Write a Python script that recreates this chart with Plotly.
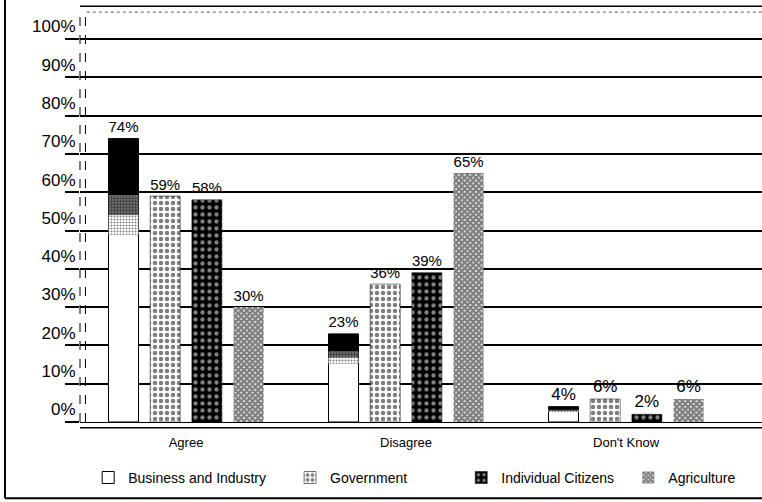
import plotly.graph_objects as go

# Survey responses by group (percent)
categories = ["Agree", "Disagree", "Don't Know"]
business = [74, 23, 4]
government = [59, 36, 6]
citizens = [58, 39, 2]
agriculture = [30, 65, 6]

y_tick_values = [0, 10, 20, 30, 40, 50, 60, 70, 80, 90, 100]
y_tick_labels = [f"{v}%" for v in y_tick_values]

FONT = "Liberation Sans, Arial, sans-serif"
label_font = dict(family=FONT, size=17, color="black")

fig = go.Figure()

# Business and Industry: white body with a dark, grainy cap
fig.add_trace(go.Bar(
    x=categories, y=business, name="Business and Industry",
    offsetgroup="b", legend="legend",
    marker=dict(color="white", line=dict(color="black", width=1)),
    text=[f"{v}%" for v in business], textposition="outside",
    textfont=label_font, cliponaxis=False,
))
fig.add_trace(go.Bar(
    x=categories, y=[v * 0.07 for v in business],
    base=[v * 0.66 for v in business],
    offsetgroup="b", showlegend=False, hoverinfo="skip",
    marker=dict(color="white", line=dict(width=0),
                pattern=dict(shape=".", size=3, solidity=0.35,
                             fgcolor="black", bgcolor="white",
                             fillmode="overlay")),
))
fig.add_trace(go.Bar(
    x=categories, y=[v * 0.07 for v in business],
    base=[v * 0.73 for v in business],
    offsetgroup="b", showlegend=False, hoverinfo="skip",
    marker=dict(color="white", line=dict(width=0),
                pattern=dict(shape=".", size=3, solidity=0.7,
                             fgcolor="black", bgcolor="#888",
                             fillmode="overlay")),
))
fig.add_trace(go.Bar(
    x=categories, y=[v * 0.2 for v in business],
    base=[v * 0.8 for v in business],
    offsetgroup="b", showlegend=False, hoverinfo="skip",
    marker=dict(color="black", line=dict(width=0)),
))

# Government: black dots on white
fig.add_trace(go.Bar(
    x=categories, y=government, name="Government",
    offsetgroup="g", legend="legend2",
    marker=dict(color="white", line=dict(color="black", width=0.5),
                pattern=dict(shape=".", size=6, solidity=0.45,
                             fgcolor="black", bgcolor="white",
                             fillmode="overlay")),
    text=[f"{v}%" for v in government], textposition="outside",
    textfont=label_font, cliponaxis=False,
))

# Individual Citizens: white dots on black
fig.add_trace(go.Bar(
    x=categories, y=citizens, name="Individual Citizens",
    offsetgroup="i", legend="legend3",
    marker=dict(color="black", line=dict(color="black", width=0.5),
                pattern=dict(shape=".", size=7, solidity=0.3,
                             fgcolor="white", bgcolor="black",
                             fillmode="overlay")),
    text=[f"{v}%" for v in citizens], textposition="outside",
    textfont=label_font, cliponaxis=False,
))

# Agriculture: fine checker hatch
fig.add_trace(go.Bar(
    x=categories, y=agriculture, name="Agriculture",
    offsetgroup="a", legend="legend4",
    marker=dict(color="white", line=dict(width=0),
                pattern=dict(shape="x", size=4, solidity=0.85,
                             fgcolor="black", bgcolor="white",
                             fillmode="overlay")),
    text=[f"{v}%" for v in agriculture], textposition="outside",
    textfont=label_font, cliponaxis=False,
))

legend_common = dict(orientation="h", yanchor="middle", y=-0.135,
                     xanchor="left", bgcolor="rgba(0,0,0,0)",
                     font=dict(family=FONT, size=14, color="black"),
                     itemwidth=30)

shapes = [
    # outer frame: left and bottom edges
    dict(type="line", xref="paper", yref="paper", x0=-0.11, x1=-0.11,
         y0=-0.184, y1=1.02, line=dict(color="black", width=2)),
    dict(type="line", xref="paper", yref="paper", x0=-0.11, x1=1.0,
         y0=-0.184, y1=-0.184, line=dict(color="black", width=2)),
    # double dashed rule along the value axis
    dict(type="line", xref="paper", yref="paper", x0=0.0, x1=0.0,
         y0=0.0, y1=1.0, line=dict(color="black", width=1, dash="dash")),
    dict(type="line", xref="paper", yref="paper", x0=0.008, x1=0.008,
         y0=0.0, y1=0.99, line=dict(color="black", width=1, dash="dash")),
    # top edge of the plot frame
    dict(type="line", xref="paper", yref="paper", x0=0.0, x1=1.0,
         y0=1.004, y1=1.004, line=dict(color="black", width=1.5)),
    dict(type="line", xref="paper", yref="paper", x0=0.01, x1=1.0,
         y0=0.99, y1=0.99, line=dict(color="#555", width=1, dash="dot")),
    # heavy base rule beneath the bars
    dict(type="line", xref="paper", yref="paper", x0=0.0, x1=1.0,
         y0=-0.014, y1=-0.014, line=dict(color="black", width=1.5)),
]

fig.update_layout(
    width=762, height=502,
    margin=dict(l=80, r=0, t=8, b=80),
    paper_bgcolor="white", plot_bgcolor="white",
    barmode="group", bargap=0.242, bargroupgap=0.28,
    font=dict(family=FONT, color="black"),
    legend=dict(legend_common, x=0.012),
    legend2=dict(legend_common, x=0.308),
    legend3=dict(legend_common, x=0.559),
    legend4=dict(legend_common, x=0.804),
    shapes=shapes,
    xaxis=dict(
        type="category", range=[-0.482, 2.618],
        showgrid=False, showline=True, linecolor="black", linewidth=1,
        ticks="", tickfont=dict(family=FONT, size=13, color="black"),
        ticklabelstandoff=8,
    ),
    yaxis=dict(
        range=[0, 108.1], tickvals=y_tick_values, ticktext=y_tick_labels,
        showgrid=True, gridcolor="black", gridwidth=1.5,
        zeroline=False, showline=False,
        ticks="outside", ticklen=14, tickwidth=1.5, tickcolor="black",
        ticklabelposition="outside top",
        tickfont=dict(family=FONT, size=17, color="black"),
    ),
)

fig.write_html("out.html")
